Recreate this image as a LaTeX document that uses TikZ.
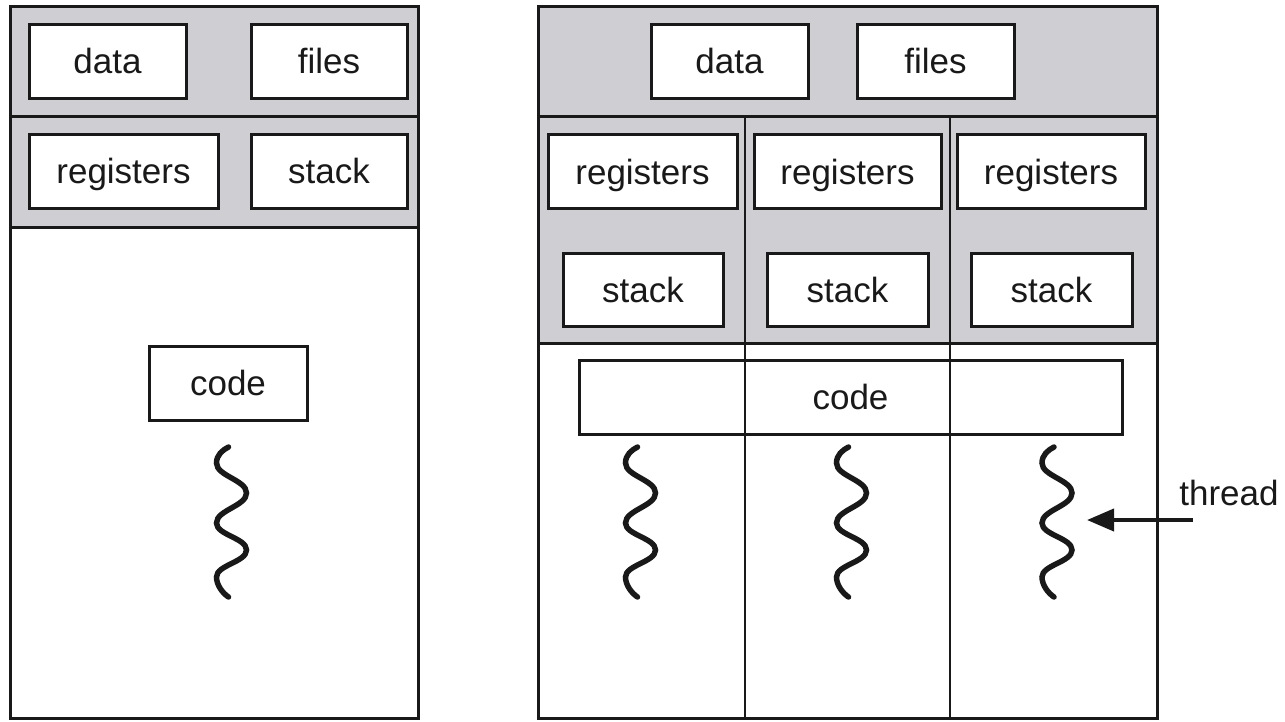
\documentclass[tikz,border=0pt]{standalone}
\usepackage{fontspec}
\setmainfont{Liberation Sans}
\usetikzlibrary{arrows.meta}
\definecolor{bandgray}{RGB}{207,207,211}
\definecolor{ink}{RGB}{25,25,25}
\begin{document}
\begin{tikzpicture}[x=1pt,y=-1pt,
  box/.style={draw=ink, line width=3pt, fill=white, inner sep=0pt, minimum height=74pt,
    text height=25pt, text depth=0pt,
    font=\fontsize{35}{40}\selectfont, text=ink},
  frame/.style={draw=ink, line width=3pt},
  divider/.style={draw=ink, line width=2.8pt},
  lbl/.style={font=\fontsize{35}{40}\selectfont, text=ink, inner sep=0pt,
    text height=25pt, text depth=0pt},
  pointer/.style={draw=ink, line width=4pt, -{Triangle[length=27pt,width=22pt]}},
  squiggle/.pic={
    \draw[ink, line width=5.5pt, line cap=round]
      (-3,0) .. controls (-9,3) and (-15,8) .. (-15,16)
      .. controls (-15,29) and (15,33) .. (15,46)
      .. controls (15,59) and (-15,63) .. (-15,76)
      .. controls (-15,88) and (15,91) .. (15,103)
      .. controls (15,115) and (-15,118) .. (-15,130)
      .. controls (-15,138) and (-9,146) .. (-3,150);
    \coordinate (-r) at (30,73);
  }]
\useasboundingbox (0,0) rectangle (1285,721);

% ---------- left panel (single-threaded process) ----------
\fill[bandgray] (10,6) rectangle (418,227);
\draw[frame] (10,6) rectangle (418,718);
\draw[frame] (10,116) -- (418,116);
\draw[frame] (10,227) -- (418,227);

\node[box, minimum width=157pt] (ldata) at (107.5,61) {data};
\node[box, minimum width=156pt] (lfiles) at (329,61) {files};
\node[box, minimum width=189pt] (lregs) at (123.5,171) {registers};
\node[box, minimum width=156pt] (lstack) at (329,171) {stack};
\node[box, minimum width=158pt] (lcode) at (228,383) {code};
\pic (lsq) at (231.5,447) {squiggle};

% ---------- right panel (multithreaded process) ----------
\fill[bandgray] (538,6) rectangle (1157,343);
\draw[frame] (538,6) rectangle (1157,718);
\draw[frame] (538,116) -- (1157,116);
\draw[frame] (538,343) -- (1157,343);

\node[box, minimum width=157pt] (rdata) at (729.5,61) {data};
\node[box, minimum width=157pt] (rfiles) at (935.5,61) {files};

\node[box, minimum width=189pt] (rreg1) at (642.5,171.5) {registers};
\node[box, minimum width=187pt] (rreg2) at (847.5,171.5) {registers};
\node[box, minimum width=188pt] (rreg3) at (1051,171.5) {registers};

\node[box, minimum width=160pt, minimum height=73pt] (rstk1) at (643,289.5) {stack};
\node[box, minimum width=161pt, minimum height=73pt] (rstk2) at (847.5,289.5) {stack};
\node[box, minimum width=161pt, minimum height=73pt] (rstk3) at (1051.5,289.5) {stack};

\node[box, minimum width=543pt] (rcode) at (850.5,397) {code};

\draw[divider] (745,116) -- (745,718);
\draw[divider] (950,116) -- (950,718);

\pic (rsq1) at (640.5,447) {squiggle};
\pic (rsq2) at (851.5,447) {squiggle};
\pic (rsq3) at (1057,447) {squiggle};

% ---------- thread label ----------
\node[lbl] (threadlbl) at (1229,493) {thread};
\coordinate (threadtail) at (1193,520);
\draw[pointer] (threadtail) -- (rsq3-r);
\end{tikzpicture}
\end{document}
